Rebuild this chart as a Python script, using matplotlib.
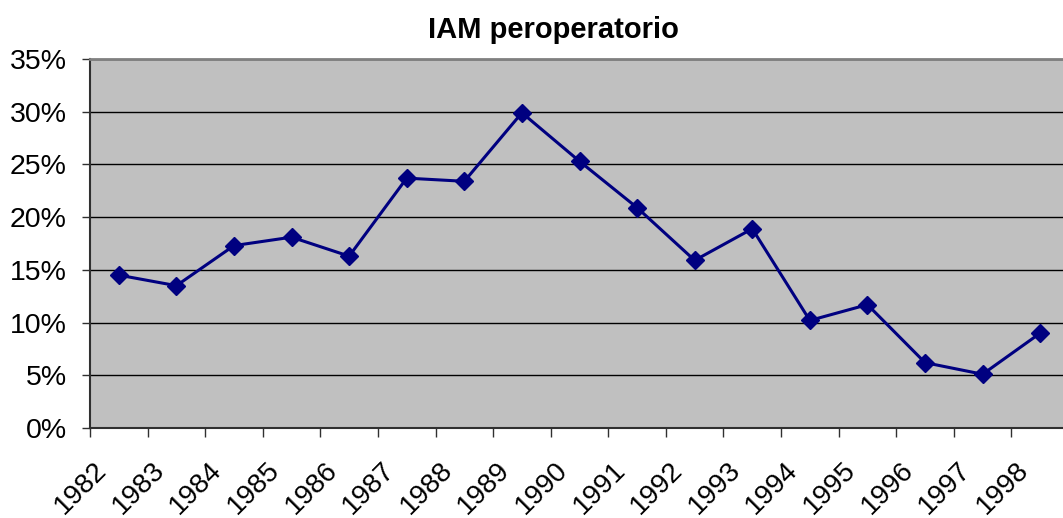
import matplotlib
matplotlib.use('Agg')
import matplotlib.pyplot as plt
from matplotlib.ticker import FuncFormatter
from matplotlib.transforms import ScaledTranslation

years = ['1982', '1983', '1984', '1985', '1986', '1987', '1988', '1989', '1990',
         '1991', '1992', '1993', '1994', '1995', '1996', '1997', '1998']
iam = [14.5, 13.5, 17.3, 18.1, 16.3, 23.7, 23.4, 29.9, 25.3,
       20.9, 15.9, 18.9, 10.2, 11.7, 6.2, 5.1, 9.0]
y_ticks = [0, 5, 10, 15, 20, 25, 30, 35]

plt.rcParams['font.family'] = ['Liberation Sans', 'DejaVu Sans']

fig = plt.figure(figsize=(10.63, 5.18), dpi=100)
ax = fig.add_axes([90 / 1063, 1 - 428 / 518, 979 / 1063, 369 / 518])
ax.set_facecolor('#c0c0c0')

x = list(range(len(years)))
ax.plot(x, iam, color='#000080', lw=2.2, marker='D', markersize=9,
        markerfacecolor='#000080', markeredgecolor='#000080', zorder=3)

ax.set_xlim(-0.5, len(years) - 0.5)
ax.set_ylim(0, 35)
ax.set_yticks(y_ticks)
ax.yaxis.set_major_formatter(FuncFormatter(lambda v, p: f'{int(v)}%'))
ax.grid(axis='y', color='black', lw=1)
ax.set_axisbelow(True)

# category ticks sit between years, labels at the years
ax.set_xticks([i - 0.5 for i in x] + [len(years) - 0.5])
ax.set_xticklabels([])
ax.set_xticks(x, minor=True)
ax.set_xticklabels(years, minor=True, rotation=45, ha='right', va='top',
                   rotation_mode='anchor', fontsize=20)
ax.tick_params(axis='x', which='minor', length=0, pad=21)
ax.tick_params(axis='x', which='major', length=6.5, width=1, color='#303030')
ax.tick_params(axis='y', length=5.8, width=1, color='#303030', labelsize=20.5, pad=11)

shift = ScaledTranslation(-25 / 100, 0, fig.dpi_scale_trans)
for lab in ax.get_xticklabels(minor=True):
    lab.set_transform(lab.get_transform() + shift)

for s in ['left', 'bottom']:
    ax.spines[s].set_color('#303030')
    ax.spines[s].set_linewidth(1.5)
for s in ['top', 'right']:
    ax.spines[s].set_color('#808080')
    ax.spines[s].set_linewidth(2)

fig.text(553 / 1063, 1 - 30 / 518, 'IAM peroperatorio', ha='center', va='center',
         fontsize=21, fontweight='bold')

fig.savefig('out.png', dpi=100)
